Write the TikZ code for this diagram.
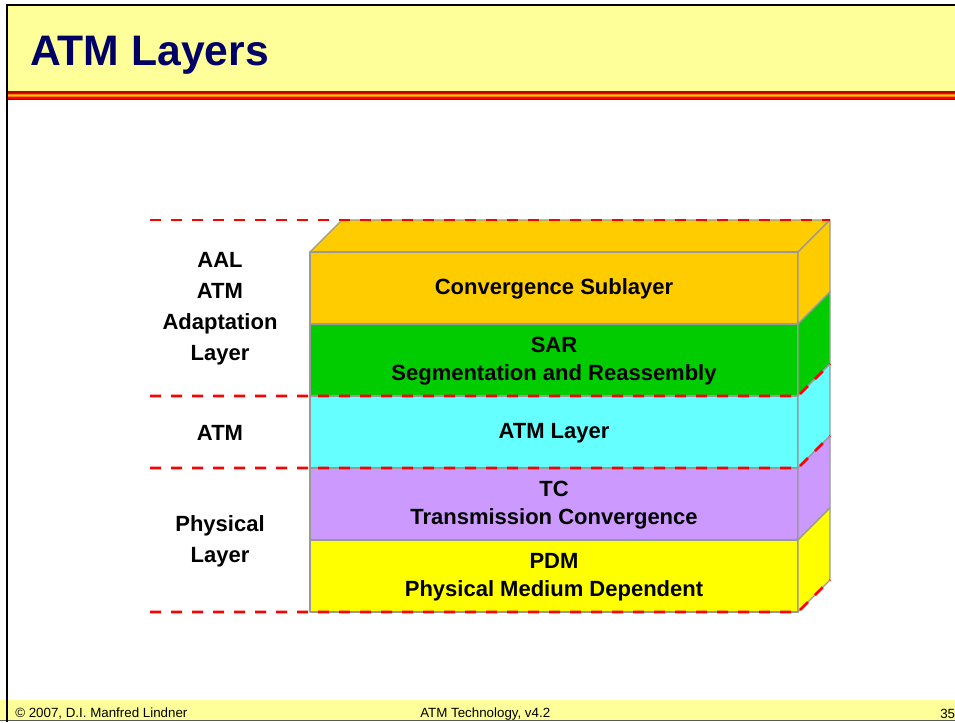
\documentclass[tikz,border=0pt]{standalone}
\usepackage{fontspec}
\setmainfont{Liberation Sans}
\usetikzlibrary{positioning}

\definecolor{headyellow}{HTML}{FFFF99}
\definecolor{titleblue}{HTML}{000066}
\definecolor{csorange}{HTML}{FFCC00}
\definecolor{sargreen}{HTML}{00CC00}
\definecolor{atmcyan}{HTML}{66FFFF}
\definecolor{tcviolet}{HTML}{CC99FF}
\definecolor{pdmyellow}{HTML}{FFFF00}
\definecolor{edgegray}{HTML}{999999}

\tikzset{
  face/.style={draw=edgegray,line width=0.9pt,line join=round},
  sepline/.style={red,line width=1.9pt,dash pattern=on 8.25pt off 7.5pt},
  layertext/.style={font=\bfseries\fontsize{16.5}{21}\selectfont,align=center,inner sep=0pt},
  sidetext/.style={font=\bfseries\fontsize{16.5}{23.25}\selectfont,align=center,inner sep=0pt},
  foottext/.style={font=\fontsize{10}{12}\selectfont,anchor=base west,inner sep=0pt}
}

\begin{document}
\begin{tikzpicture}[x=0.75pt,y=-0.75pt]
  \useasboundingbox (0,0) rectangle (955,722);

  % header
  \fill[headyellow] (7,5) rectangle (955,92);
  \fill[red!75!black] (7,91) rectangle (955,100);
  \fill[red] (7,92.5) rectangle (955,98.5);
  \fill[orange] (7,94) rectangle (955,97);
  \fill[yellow!70!orange] (7,95) rectangle (955,96);
  \node[anchor=base west,inner sep=0pt,text=titleblue,font=\bfseries\fontsize{32}{36}\selectfont] (title) at (30,65) {ATM Layers};

  % footer
  \fill[headyellow] (0,700) rectangle (955,720);
  \draw[gray!70!black,line width=1.2pt] (0,720.5) -- (955,720.5);
  \draw[line width=1.5pt] (7,722) -- (7,5) -- (955,5);
  \node[foottext] (copy) at (15,717) {\textcopyright{} 2007, D.I. Manfred Lindner};
  \node[foottext] (course) at (420,717) {ATM Technology, v4.2};
  \node[foottext] (pagenum) at (940,718) {35};

  % top face
  \filldraw[face,fill=csorange] (310,252) -- (342,220) -- (830,220) -- (798,252) -- cycle;

  % Convergence Sublayer
  \filldraw[face,fill=csorange] (310,252) rectangle (798,324);
  \filldraw[face,fill=csorange] (798,252) -- (830,220) -- (830,292) -- (798,324) -- cycle;

  % SAR
  \filldraw[face,fill=sargreen] (310,324) rectangle (798,396);
  \filldraw[face,fill=sargreen] (798,324) -- (830,292) -- (830,364) -- (798,396) -- cycle;

  % ATM Layer
  \filldraw[face,fill=atmcyan] (310,396) rectangle (798,468);
  \filldraw[face,fill=atmcyan] (798,396) -- (830,364) -- (830,436) -- (798,468) -- cycle;

  % TC
  \filldraw[face,fill=tcviolet] (310,468) rectangle (798,540);
  \filldraw[face,fill=tcviolet] (798,468) -- (830,436) -- (830,508) -- (798,540) -- cycle;

  % PDM
  \filldraw[face,fill=pdmyellow] (310,540) rectangle (798,612);
  \filldraw[face,fill=pdmyellow] (798,540) -- (830,508) -- (830,580) -- (798,612) -- cycle;

  % layer borders
  \draw[sepline] (150,220) -- (830,220);
  \draw[sepline] (150,396) -- (798,396) -- (830,364);
  \draw[sepline] (150,468) -- (798,468) -- (830,436);
  \draw[sepline] (150,612) -- (798,612) -- (830,580);

  % texts in the stack
  \node[layertext] (cs) at (554,289) {Convergence Sublayer};
  \node[layertext] (sar) at (554,361) {SAR\\Segmentation and Reassembly};
  \node[layertext] (atm) at (554,433) {ATM Layer};
  \node[layertext] (tc) at (554,505) {TC\\Transmission Convergence};
  \node[layertext] (pdm) at (554,577) {PDM\\Physical Medium Dependent};

  % texts on the left
  \node[sidetext] (aal) at (220,309) {AAL\\ATM\\Adaptation\\Layer};
  \node[sidetext] (atmside) at (220,433) {ATM};
  \node[sidetext] (phys) at (220,541) {Physical\\Layer};
\end{tikzpicture}
\end{document}
